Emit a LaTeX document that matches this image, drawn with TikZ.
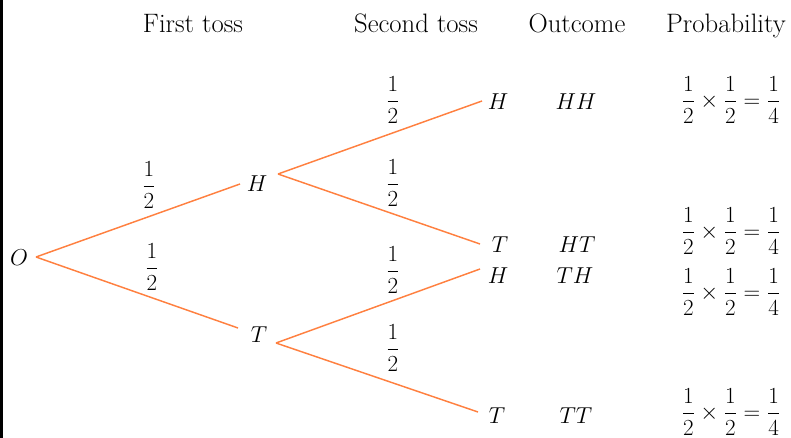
\documentclass[tikz,border=0pt]{standalone}
\usepackage{amsmath}
\definecolor{branchorange}{HTML}{FF8040}
\tikzset{
  branch/.style={draw=branchorange, line width=1.1pt},
  lbl/.style={inner sep=0pt, anchor=base},
  head/.style={inner sep=0pt, anchor=base, font=\fontsize{20}{24}\selectfont},
  frac/.style={inner sep=0pt, anchor=center},
}
\begin{document}
\begin{tikzpicture}[x=0.75pt,y=-0.75pt,font=\fontsize{17.28}{21}\selectfont]
\useasboundingbox (0,0) rectangle (791,438);
\fill[black] (0,0) rectangle (2.5,438);
% headers
\node[head] (h1) at (193,33) {First toss};
\node[head] (h2) at (416,33) {Second toss};
\node[head] (h3) at (577,33) {Outcome};
\node[head] (h4) at (726,33) {Probability};
% tree labels
\node[lbl] (O) at (19,265) {$O$};
\node[lbl] (H1) at (257,192) {$H$};
\node[lbl] (T1) at (259,342) {$T$};
\node[lbl] (H2) at (498,110) {$H$};
\node[lbl] (T2) at (500,252) {$T$};
\node[lbl] (H3) at (498,283) {$H$};
\node[lbl] (T3) at (497,423) {$T$};
% connector ends
\coordinate (Oout) at (36,257);
\coordinate (H1in) at (240,184);
\coordinate (H1out) at (278,174);
\coordinate (T1in) at (238,328);
\coordinate (T1out) at (276,343);
\coordinate (H2in) at (482,101);
\coordinate (T2in) at (480,244);
\coordinate (H3in) at (480,269);
\coordinate (T3in) at (478,412);
\draw[branch] (Oout) -- (H1in);
\draw[branch] (Oout) -- (T1in);
\draw[branch] (H1out) -- (H2in);
\draw[branch] (H1out) -- (T2in);
\draw[branch] (T1out) -- (H3in);
\draw[branch] (T1out) -- (T3in);
% branch probabilities
\node[frac] (p1) at (149,185) {$\dfrac{1}{2}$};
\node[frac] (p2) at (152,267) {$\dfrac{1}{2}$};
\node[frac] (p3) at (393,100) {$\dfrac{1}{2}$};
\node[frac] (p4) at (393,183) {$\dfrac{1}{2}$};
\node[frac] (p5) at (393,270) {$\dfrac{1}{2}$};
\node[frac] (p6) at (393,348) {$\dfrac{1}{2}$};
% outcomes
\node[lbl] (oHH) at (576,110) {$HH$};
\node[lbl] (oHT) at (577,252) {$HT$};
\node[lbl] (oTH) at (575,283) {$TH$};
\node[lbl] (oTT) at (576,423) {$TT$};
% probabilities
\node[frac] (r1) at (731,100) {$\dfrac{1}{2}\times\dfrac{1}{2}=\dfrac{1}{4}$};
\node[frac] (r2) at (731,231) {$\dfrac{1}{2}\times\dfrac{1}{2}=\dfrac{1}{4}$};
\node[frac] (r3) at (731,292) {$\dfrac{1}{2}\times\dfrac{1}{2}=\dfrac{1}{4}$};
\node[frac] (r4) at (731,412) {$\dfrac{1}{2}\times\dfrac{1}{2}=\dfrac{1}{4}$};
\end{tikzpicture}
\end{document}
